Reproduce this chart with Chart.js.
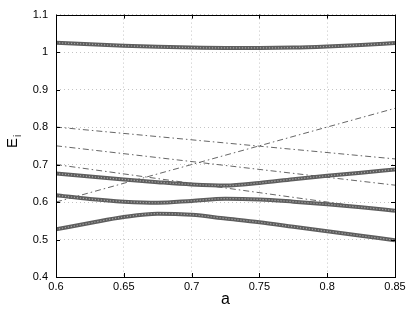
<!DOCTYPE html>
<html><head><meta charset="utf-8">
<script src="https://cdn.jsdelivr.net/npm/chart.js@4"></script>
<style>html,body{margin:0;padding:0;background:#fff}#w{width:409px;height:309px}</style>
</head><body><div id="w"><canvas id="c"></canvas></div>
<script>
const aValues = [0.6,0.625,0.65,0.675,0.7,0.725,0.75,0.775,0.8,0.825,0.85];
const curve1 = [1.025,1.021,1.017,1.014,1.012,1.011,1.011,1.012,1.015,1.019,1.024];
const curve2 = [0.676,0.668,0.660,0.653,0.647,0.644,0.651,0.661,0.670,0.678,0.687];
const curve3 = [0.618,0.608,0.601,0.598,0.603,0.609,0.607,0.601,0.594,0.586,0.577];
const curve4 = [0.527,0.544,0.560,0.569,0.566,0.556,0.546,0.534,0.522,0.510,0.498];
const lineA = [0.6,0.85];
const diab1 = [0.80,0.715];
const diab2 = [0.75,0.645];
const diab3 = [0.70,0.575];
const diab4 = [0.60,0.85];
const xTicks = [0.6,0.65,0.7,0.75,0.8,0.85];
const yTicks = [0.4,0.5,0.6,0.7,0.8,0.9,1.0,1.1];
const xLabel = 'a';
const yLabel = 'E', ySub = 'i';

const pts = (xs, ys) => xs.map((x,i)=>({x, y: ys[i]}));
const FONT = "'Liberation Sans', Arial, sans-serif";

const dashed = ys => ({data: pts(lineA, ys), borderColor:'#555', borderWidth:0.9, borderDash:[6,3,1.5,3], pointRadius:0, fill:false, order:3});
const band = ys => ({data: pts(aValues, ys), borderColor:'#5e5e5e', borderWidth:4, pointRadius:0, fill:false, cubicInterpolationMode:'monotone', order:2});
const tex = ys => ({data: pts(aValues, ys), borderColor:'rgba(255,255,255,0.45)', borderWidth:1.2, borderDash:[1.2,1.8], pointRadius:0, fill:false, cubicInterpolationMode:'monotone', order:1});

const frame = {
  id:'frame',
  afterDraw(chart){
    const {ctx, chartArea:a, scales:{x, y}} = chart;
    ctx.save();
    ctx.strokeStyle='#000'; ctx.lineWidth=1;
    ctx.strokeRect(Math.round(a.left)+0.5, Math.round(a.top)+0.5, Math.round(a.right-a.left), Math.round(a.bottom-a.top));
    const L=4;
    ctx.beginPath();
    xTicks.forEach(v=>{const p=Math.round(x.getPixelForValue(v))+0.5; ctx.moveTo(p,a.bottom); ctx.lineTo(p,a.bottom-L); ctx.moveTo(p,a.top); ctx.lineTo(p,a.top+L);});
    yTicks.forEach(v=>{const p=Math.round(y.getPixelForValue(v))+0.5; ctx.moveTo(a.left,p); ctx.lineTo(a.left+L,p); ctx.moveTo(a.right,p); ctx.lineTo(a.right-L,p);});
    ctx.stroke();
    ctx.fillStyle='#000';
    ctx.translate(13, 143);
    ctx.rotate(-Math.PI/2);
    ctx.textAlign='center'; ctx.textBaseline='middle';
    ctx.font = '15px '+FONT;
    ctx.fillText(yLabel, 0, 0);
    ctx.font = '10px '+FONT;
    ctx.fillText(ySub, 7, 5);
    ctx.restore();
  }
};

const gridCfg = {color:'#c4c4c4', drawTicks:false, lineWidth:1};
new Chart(document.getElementById('c'), {
  type:'line',
  data:{datasets:[band(curve1),band(curve2),band(curve3),band(curve4),tex(curve1),tex(curve2),tex(curve3),tex(curve4),dashed(diab1),dashed(diab2),dashed(diab3),dashed(diab4)]},
  options:{
    responsive:true, maintainAspectRatio:false, animation:false,
    layout:{padding:{top:10,right:14,left:0,bottom:0}},
    plugins:{legend:{display:false}, tooltip:{enabled:false}},
    scales:{
      x:{type:'linear', min:0.6, max:0.85,
        afterBuildTicks(s){s.ticks = xTicks.map(v=>({value:v}));},
        afterFit(s){s.height = 32;},
        ticks:{font:{size:11, family:FONT}, color:'#000', padding:3, maxRotation:0, callback:v=>String(+v.toFixed(2))},
        grid:gridCfg,
        border:{display:false, dash:[1,3]},
        title:{display:true, text:xLabel, font:{size:16, family:FONT}, color:'#000', padding:{top:0,bottom:0}}
      },
      y:{type:'linear', min:0.4, max:1.1,
        afterBuildTicks(s){s.ticks = yTicks.map(v=>({value:v}));},
        afterFit(s){s.width = 56;},
        ticks:{font:{size:11, family:FONT}, color:'#000', padding:8, callback:v=>String(+v.toFixed(1))},
        grid:gridCfg,
        border:{display:false, dash:[1,3]}
      }
    }
  },
  plugins:[frame]
});
</script></body></html>
